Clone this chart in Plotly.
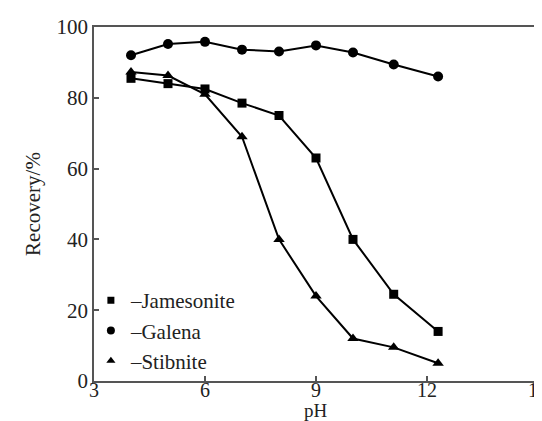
import plotly.graph_objects as go

ph = [4, 5, 6, 7, 8, 9, 10, 11.1, 12.3]
jamesonite = [85.5, 84.0, 82.5, 78.5, 75.0, 63.0, 40.0, 24.5, 14.0]
galena = [92.0, 95.2, 95.8, 93.6, 93.1, 94.8, 92.8, 89.4, 86.0]
stibnite = [87.3, 86.3, 81.0, 69.0, 40.0, 24.0, 12.0, 9.5, 5.0]

series = [
    ("Jamesonite", jamesonite, "square", 9),
    ("Galena", galena, "circle", 10),
    ("Stibnite", stibnite, "triangle-up", 10),
]

font = "Liberation Serif, Times New Roman, serif"
fig = go.Figure()
for name, ys, sym, sz in series:
    fig.add_trace(go.Scatter(x=ph, y=ys, mode="lines+markers", name=name,
                             line=dict(color="black", width=2),
                             marker=dict(symbol=sym, size=sz, color="black"),
                             showlegend=False))
for name, ys, sym, sz in series:
    fig.add_trace(go.Scatter(x=[None], y=[None], mode="markers", name="\u2013" + name,
                             marker=dict(symbol=sym, size=sz - 2, color="black")))

axis_common = dict(ticks="inside", ticklen=5, tickwidth=1.5, tickcolor="#555",
                   showline=True, linecolor="#555", linewidth=1.5, mirror=True,
                   showgrid=False, zeroline=False, automargin=False)

fig.update_layout(
    width=542, height=421,
    margin=dict(l=86, r=12, t=19, b=48),
    paper_bgcolor="white", plot_bgcolor="white",
    font=dict(family=font, size=21, color="#222"),
    legend=dict(x=-0.007, y=0.285, xanchor="left", yanchor="top",
                bgcolor="rgba(0,0,0,0)", font=dict(size=21),
                itemwidth=30, tracegroupgap=0),
    xaxis=dict(range=[3, 15], tickvals=[3, 6, 9, 12, 15], ticklabelstandoff=-10,
               tickfont=dict(size=20), **axis_common),
    yaxis=dict(range=[0, 100], tickvals=[0, 20, 40, 60, 80, 100],
               title=dict(text="Recovery/%", standoff=10, font=dict(size=21)), **axis_common),
    annotations=[dict(text="pH", xref="paper", yref="paper", x=0.5, y=-0.082,
                      xanchor="center", yanchor="middle", showarrow=False,
                      font=dict(size=19))],
)
fig.write_html("out.html")
